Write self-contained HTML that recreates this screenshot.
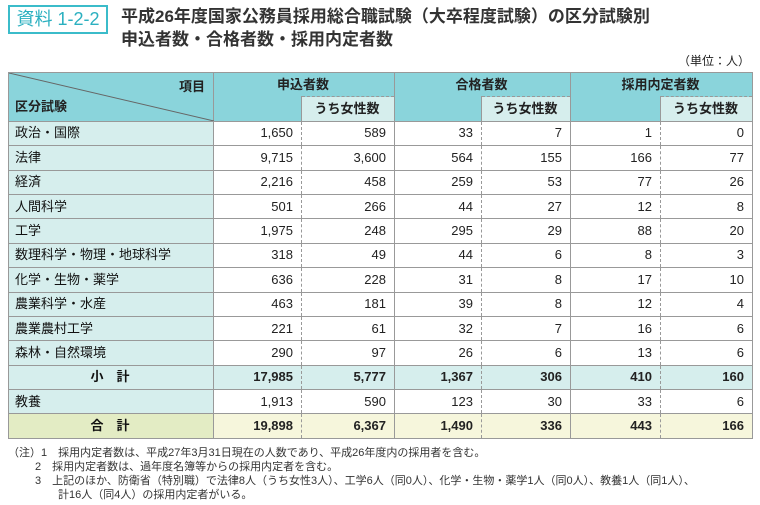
<!DOCTYPE html>
<html><head><meta charset="utf-8"><style>
body{margin:0;width:760px;height:505px;background:#fff;font-family:"Liberation Sans","Noto Sans CJK JP",sans-serif;color:#222;position:relative;overflow:hidden}
.tag{position:absolute;left:8px;top:5px;width:96px;height:25px;border:2px solid #3bbcca;color:#2bb0c0;font-size:18px;line-height:25px;text-align:center}
.ttl{position:absolute;left:121px;top:5px;font-size:17px;line-height:23px;font-weight:bold;color:#333}
.unit{position:absolute;right:10px;top:52px;font-size:12px}
table{position:absolute;left:8px;top:72px;border-collapse:collapse;font-size:13px;table-layout:fixed}
td{border:1px solid #999;height:23.4px;line-height:16px;padding:0 8px 0 6px;text-align:right;background:#fff;vertical-align:middle}
td.l{text-align:left;background:#d6eeed;font-weight:normal;color:#111}
td.d{border-right:1px dashed #999}
td.e{border-left:1px dashed #999}
.h{background:#8ad4db;font-weight:bold;text-align:center}
.sub{background:#d6eeed;font-weight:bold;text-align:center;border-left:1px dashed #999;border-top:1px dashed #999}
.s td{background:#d6eeed;font-weight:bold}
.s td.l,.t td.l{font-weight:bold}
.t td{background:#f6f6dc;font-weight:bold}
.t td.l{background:#e3ecc4}
.notes{position:absolute;left:8px;top:446px;font-size:11px;line-height:14px;color:#333}
</style></head><body>
<div class="tag">資料 1-2-2</div>
<div class="ttl">平成26年度国家公務員採用総合職試験（大卒程度試験）の区分試験別<br>申込者数・合格者数・採用内定者数</div>
<div class="unit">（単位：人）</div>
<table>
<colgroup><col style="width:205px"><col style="width:88px"><col style="width:93px"><col style="width:87px"><col style="width:89px"><col style="width:90px"><col style="width:92px"></colgroup>
<tr><td rowspan="2" class="h" style="position:relative;padding:0;height:47px"><svg width="205" height="48" style="position:absolute;left:0;top:0"><line x1="0" y1="0" x2="205" y2="48" stroke="#666" stroke-width="1"/></svg><span style="position:absolute;right:8px;top:6px">項目</span><span style="position:absolute;left:6px;top:26px">区分試験</span></td>
<td colspan="2" class="h" style="border-bottom:none">申込者数</td><td colspan="2" class="h" style="border-bottom:none">合格者数</td><td colspan="2" class="h" style="border-bottom:none">採用内定者数</td></tr>
<tr><td class="h" style="border-top:none"></td><td class="sub">うち女性数</td><td class="h" style="border-top:none"></td><td class="sub">うち女性数</td><td class="h" style="border-top:none"></td><td class="sub">うち女性数</td></tr>
<tr><td class="l">政治・国際</td><td class="d">1,650</td><td class="e">589</td><td class="d">33</td><td class="e">7</td><td class="d">1</td><td class="e">0</td></tr>
<tr><td class="l">法律</td><td class="d">9,715</td><td class="e">3,600</td><td class="d">564</td><td class="e">155</td><td class="d">166</td><td class="e">77</td></tr>
<tr><td class="l">経済</td><td class="d">2,216</td><td class="e">458</td><td class="d">259</td><td class="e">53</td><td class="d">77</td><td class="e">26</td></tr>
<tr><td class="l">人間科学</td><td class="d">501</td><td class="e">266</td><td class="d">44</td><td class="e">27</td><td class="d">12</td><td class="e">8</td></tr>
<tr><td class="l">工学</td><td class="d">1,975</td><td class="e">248</td><td class="d">295</td><td class="e">29</td><td class="d">88</td><td class="e">20</td></tr>
<tr><td class="l">数理科学・物理・地球科学</td><td class="d">318</td><td class="e">49</td><td class="d">44</td><td class="e">6</td><td class="d">8</td><td class="e">3</td></tr>
<tr><td class="l">化学・生物・薬学</td><td class="d">636</td><td class="e">228</td><td class="d">31</td><td class="e">8</td><td class="d">17</td><td class="e">10</td></tr>
<tr><td class="l">農業科学・水産</td><td class="d">463</td><td class="e">181</td><td class="d">39</td><td class="e">8</td><td class="d">12</td><td class="e">4</td></tr>
<tr><td class="l">農業農村工学</td><td class="d">221</td><td class="e">61</td><td class="d">32</td><td class="e">7</td><td class="d">16</td><td class="e">6</td></tr>
<tr><td class="l">森林・自然環境</td><td class="d">290</td><td class="e">97</td><td class="d">26</td><td class="e">6</td><td class="d">13</td><td class="e">6</td></tr>
<tr class="s"><td class="l" style="text-align:center">小　計</td><td class="d">17,985</td><td class="e">5,777</td><td class="d">1,367</td><td class="e">306</td><td class="d">410</td><td class="e">160</td></tr>
<tr><td class="l">教養</td><td class="d">1,913</td><td class="e">590</td><td class="d">123</td><td class="e">30</td><td class="d">33</td><td class="e">6</td></tr>
<tr class="t"><td class="l" style="text-align:center">合　計</td><td class="d">19,898</td><td class="e">6,367</td><td class="d">1,490</td><td class="e">336</td><td class="d">443</td><td class="e">166</td></tr>
</table>
<div class="notes">（注）1　採用内定者数は、平成27年3月31日現在の人数であり、平成26年度内の採用者を含む。<br>
<span style="padding-left:27px">2　採用内定者数は、過年度名簿等からの採用内定者を含む。</span><br>
<span style="padding-left:27px">3　上記のほか、防衛省（特別職）で法律8人（うち女性3人）、工学6人（同0人）、化学・生物・薬学1人（同0人）、教養1人（同1人）、</span><br>
<span style="padding-left:50px">計16人（同4人）の採用内定者がいる。</span></div>
</body></html>
